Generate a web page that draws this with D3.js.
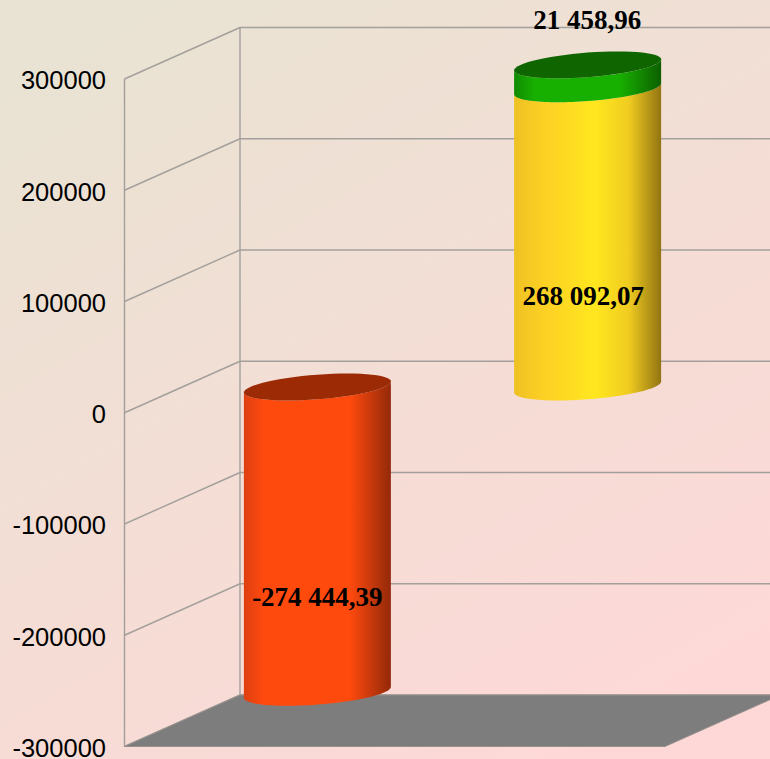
<!DOCTYPE html>
<html>
<head>
<meta charset="utf-8">
<title>Chart</title>
<script src="https://cdn.jsdelivr.net/npm/d3@7"></script>
<style>
html, body { margin: 0; padding: 0; overflow: hidden; }
svg { display: block; }
</style>
</head>
<body>
<div id="chart"></div>
<script>
var categories = ['A', 'B'];
var negativeValues = [-274444.39, 0];
var positiveValues = [0, 268092.07];
var topValues = [0, 21458.96];
var tickValues = [-300000, -200000, -100000, 0, 100000, 200000, 300000];

var width = 770, height = 759;
var depthX = 115.5, depthY = -51.5;

var y = d3.scaleLinear().domain([-300000, 300000]).range([746.5, 79]);
var x = d3.scaleBand().domain(categories).range([124.5, 665]).padding(0);

var svg = d3.select('#chart').append('svg')
	.attr('width', width)
	.attr('height', height);

var defs = svg.append('defs');

var bg = defs.append('linearGradient').attr('id', 'bg')
	.attr('x1', 0.2).attr('y1', 0).attr('x2', 0.8).attr('y2', 1);
bg.append('stop').attr('offset', 0).attr('stop-color', '#e9e3d3');
bg.append('stop').attr('offset', 1).attr('stop-color', '#fed8d7');

function barGradient(id, edge, mid, dark) {
	var g = defs.append('linearGradient').attr('id', id);
	g.append('stop').attr('offset', 0).attr('stop-color', edge);
	g.append('stop').attr('offset', 0.14).attr('stop-color', mid);
	g.append('stop').attr('offset', 0.72).attr('stop-color', mid);
	g.append('stop').attr('offset', 1).attr('stop-color', dark);
}
barGradient('red', '#de3f10', '#ff4a0e', '#93290a');
barGradient('green', '#108a00', '#18b000', '#0c5f00');

var yellow = defs.append('linearGradient').attr('id', 'yellow');
yellow.append('stop').attr('offset', 0).attr('stop-color', '#eec124');
yellow.append('stop').attr('offset', 0.2).attr('stop-color', '#fdd024');
yellow.append('stop').attr('offset', 0.55).attr('stop-color', '#ffe71f');
yellow.append('stop').attr('offset', 0.78).attr('stop-color', '#f0cc20');
yellow.append('stop').attr('offset', 1).attr('stop-color', '#927412');

svg.append('rect')
	.attr('width', width).attr('height', height)
	.attr('fill', 'url(#bg)');

// walls
var wallColor = '#a3a09c';
var walls = svg.append('g')
	.attr('fill', 'none')
	.attr('stroke', wallColor)
	.attr('stroke-width', 1.4);

walls.selectAll('.side').data(tickValues).enter().append('line')
	.attr('x1', x.range()[0]).attr('y1', function(d) {return y(d);})
	.attr('x2', x.range()[0] + depthX).attr('y2', function(d) {return y(d) + depthY;});

walls.selectAll('.back').data(tickValues).enter().append('line')
	.attr('x1', x.range()[0] + depthX).attr('y1', function(d) {return y(d) + depthY;})
	.attr('x2', x.range()[1] + depthX).attr('y2', function(d) {return y(d) + depthY;});

walls.append('line')
	.attr('x1', x.range()[0]).attr('y1', y.range()[0])
	.attr('x2', x.range()[0]).attr('y2', y.range()[1]);
walls.append('line')
	.attr('x1', x.range()[0] + depthX).attr('y1', y.range()[0] + depthY)
	.attr('x2', x.range()[0] + depthX).attr('y2', y.range()[1] + depthY);

// floor
var floorY = y.range()[0];
svg.append('path')
	.attr('d', d3.line()([
		[x.range()[0], floorY],
		[x.range()[1], floorY],
		[x.range()[1] + depthX, floorY + depthY],
		[x.range()[0] + depthX, floorY + depthY]]) + 'Z')
	.attr('fill', '#7d7d7d')
	.attr('stroke', '#96908c')
	.attr('stroke-width', 1);

// cylinders
var radiusX = 73.5, skewY = -5.5, radiusY = 12.3;

function ring(cx, cy, from, to) {
	var points = d3.range(0, 61).map(function(i) {
		var t = from + (to - from) * i / 60;
		return [cx + radiusX * Math.cos(t),
			cy + skewY * Math.cos(t) + radiusY * Math.sin(t)];
	});
	return points;
}

function bodyPath(cx, top, bottom) {
	var upper = ring(cx, top, 0, Math.PI);
	var lower = ring(cx, bottom, 0, Math.PI);
	return d3.line()(upper.concat(lower.reverse())) + 'Z';
}

function cap(cx, cy) {
	return d3.line()(ring(cx, cy, 0, Math.PI * 2)) + 'Z';
}

function centerX(c) {return x(c) + x.bandwidth() / 2 + depthX / 2;}
function yMid(v) {return y(v) + depthY / 2;}

var format = d3.formatLocale({decimal: ',', thousands: ' ', grouping: [3], currency: ['', ''], minus: '-'}).format(',.2f');
var labelOffset = 57;

var bars = svg.append('g');

function cylinder(c, from, to, fill, capFill) {
	var cx = centerX(c);
	var top = yMid(Math.max(from, to)), bottom = yMid(Math.min(from, to));
	bars.append('path').attr('d', bodyPath(cx, top, bottom)).attr('fill', 'url(#' + fill + ')');
	if (capFill) {
		bars.append('path').attr('d', cap(cx, top)).attr('fill', capFill);
	}
}

categories.forEach(function(c, i) {
	if (negativeValues[i] < 0) {
		cylinder(c, negativeValues[i], 0, 'red', '#9b2a05');
	}
	if (positiveValues[i] > 0) {
		cylinder(c, 0, positiveValues[i], 'yellow', null);
		cylinder(c, positiveValues[i], positiveValues[i] + topValues[i], 'green', '#0f6600');
	}
});

// axis labels
var axis = d3.axisLeft(y).tickValues(tickValues).tickSize(0).tickPadding(18.5)
	.tickFormat(function(d) {return String(d);});
var axisG = svg.append('g')
	.attr('transform', 'translate(' + x.range()[0] + ',0)')
	.call(axis);
axisG.select('.domain').remove();
axisG.selectAll('text')
	.attr('dy', '0.39em')
	.attr('fill', '#000')
	.style('font-family', '"Liberation Sans", Arial, sans-serif')
	.style('font-size', '25.5px');

// data labels
var labels = svg.append('g')
	.attr('text-anchor', 'middle')
	.style('font-family', '"Liberation Serif", "Times New Roman", serif')
	.style('font-weight', 'bold')
	.style('font-size', '27px')
	.attr('fill', '#000');

function label(c, value, mid, offset, shift) {
	labels.append('text')
		.attr('x', centerX(c) + shift)
		.attr('y', yMid(mid) + offset)
		.attr('dy', '0.35em')
		.text(format(value));
}

label(categories[0], negativeValues[0], negativeValues[0] / 2, labelOffset, 0);
label(categories[1], positiveValues[1], positiveValues[1] / 2, labelOffset + 1, -4.5);
label(categories[1], topValues[1], positiveValues[1] + topValues[1] / 2, -labelOffset, -0.5);
</script>
</body>
</html>
